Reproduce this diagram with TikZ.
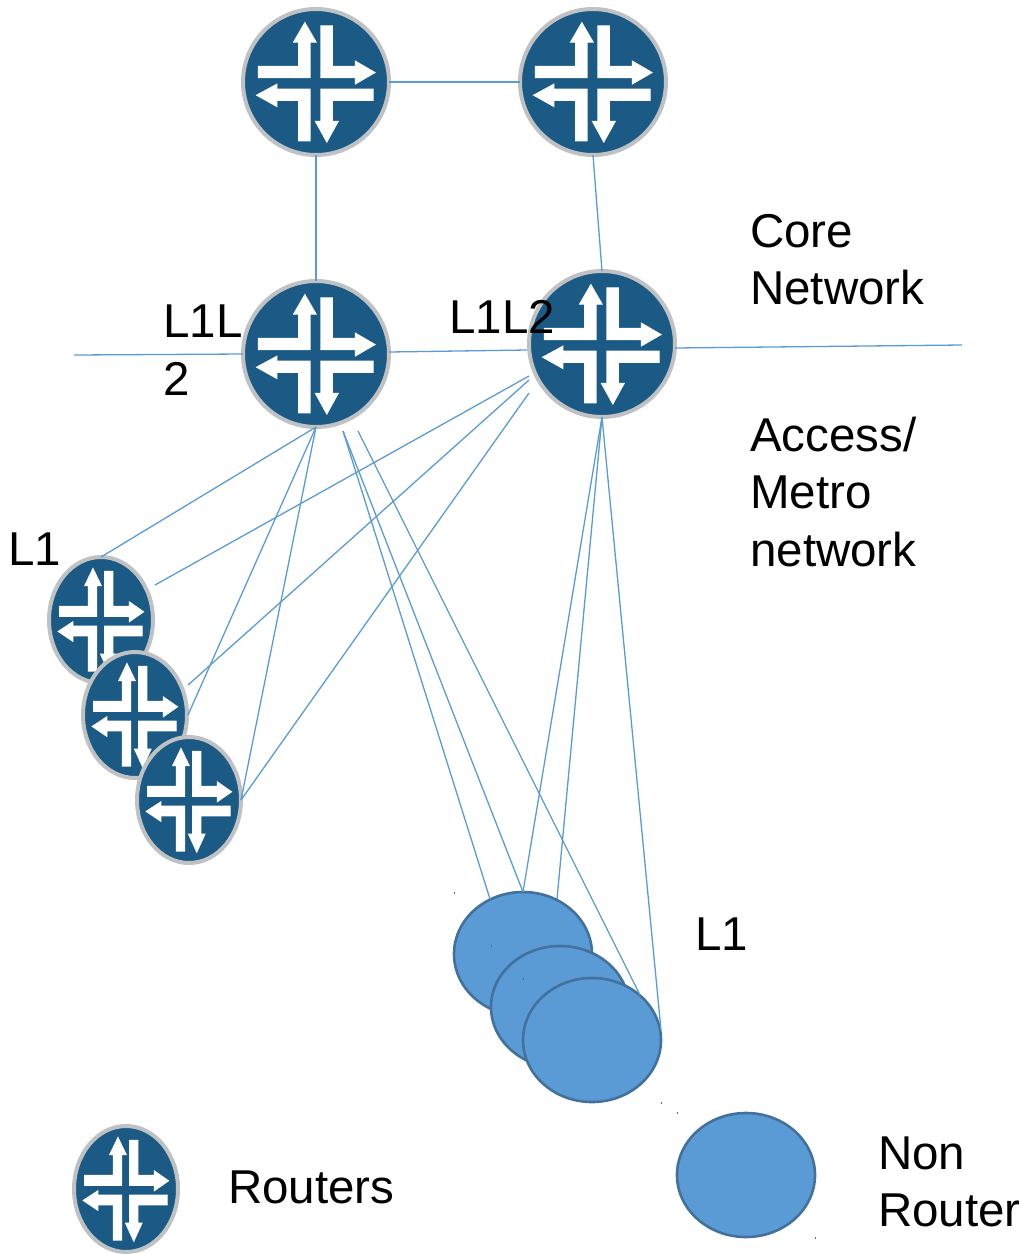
\documentclass[tikz,border=0pt]{standalone}
\usepackage{fontspec}
\setmainfont{Liberation Sans}
\usetikzlibrary{shapes.geometric}
\definecolor{linkblue}{HTML}{5B9BD5}
\definecolor{hostedge}{HTML}{41719C}
\definecolor{routerblue}{HTML}{1A5A85}
\definecolor{routerring}{HTML}{BFC1C3}
\tikzset{
  routerbody/.style={ellipse,draw=routerring,fill=routerblue,line width=4pt,inner sep=0pt,outer sep=0pt},
  hostbody/.style={ellipse,draw=hostedge,fill=linkblue,line width=2.6pt,inner sep=0pt,outer sep=0pt},
  link/.style={draw=linkblue,line width=1.3pt},
  lbl/.style={anchor=base west,inner sep=0pt,font=\fontsize{47.5}{57}\selectfont},
  speck/.style={fill=hostedge},
  glyph/.style={fill=white,draw=white,line width=1.2pt,miter limit=10}
}
\newcommand{\routernode}[5]{%
  \node[routerbody,minimum width=#4*2pt-4pt,minimum height=#5*2pt-4pt] (#1) at (#2,#3) {};
  \begin{scope}[shift={(#2,#3)},x={#4pt/222},y={-#5pt/222}]
    \path[glyph] (-170,-46)--(-51,-46)--(-51,-118)--(-66,-118)--(-33,-175)--(0,-118)--(-18,-118)--(-18,-13)--(-170,-13)--cycle;
    \path[glyph] (15,-166)--(48,-166)--(48,-46)--(117,-46)--(117,-61)--(174,-28)--(117,5)--(117,-13)--(15,-13)--cycle;
    \path[glyph] (169,21)--(169,54)--(48,54)--(48,117)--(65,117)--(32,177)--(-1,117)--(15,117)--(15,21)--cycle;
    \path[glyph] (-175,39)--(-116,7)--(-116,21)--(-18,21)--(-18,174)--(-51,174)--(-51,54)--(-116,54)--(-116,72)--cycle;
  \end{scope}}
\begin{document}
\begin{tikzpicture}[x=1pt,y=-1pt]
\useasboundingbox (0,0) rectangle (1021,1254);
% routers
\routernode{coreA}{316}{82}{75}{75}
\routernode{coreB}{593}{82}{75}{75}
\routernode{edgeC}{316}{354}{75}{75}
\routernode{edgeD}{602}{344}{75}{75}
\routernode{leafA}{101}{620}{54}{65}
\routernode{leafB}{135}{715}{54}{65}
\routernode{leafC}{189}{800}{54}{65}
\routernode{legendR}{126}{1189}{54}{65}
% non routers
\node[hostbody,minimum width=138pt,minimum height=124pt] (hostA) at (523,954) {};
\node[hostbody,minimum width=138pt,minimum height=122pt] (hostB) at (560,1007) {};
\node[hostbody,minimum width=138pt,minimum height=124pt] (hostC) at (592,1040) {};
\node[hostbody,minimum width=138pt,minimum height=124pt] (legendH) at (746,1175) {};
% free ends and border points
\coordinate (farW) at (74,355);
\coordinate (farE) at (962,345);
\coordinate (cOutA) at (343,431);
\coordinate (cOutB) at (358,431);
\coordinate (dOutA) at (529,376);
\coordinate (dOutB) at (529,380);
\coordinate (dOutC) at (529,393);
\coordinate (leafAin) at (155,585);
\coordinate (leafBin) at (188,685);
\coordinate (leafBinB) at (188,715);
\coordinate (leafCin) at (241,800);
\coordinate (hostAin) at (490,899);
\coordinate (hostAinB) at (557,899);
\coordinate (hostCin) at (640,995);
\coordinate (hostCinB) at (661,1030);
% links
\draw[link] (coreA.east) -- (coreB.west);
\draw[link] (coreA.south) -- (edgeC.north);
\draw[link] (coreB.south) -- (edgeD.north);
\draw[link] (farW) -- (edgeC.west);
\draw[link] (edgeC.east) ++(0,-2) -- (527,350);
\draw[link] (edgeD.east) ++(0,4) -- (farE);
\draw[link] (edgeC.south) -- (leafA.north);
\draw[link] (edgeC.south) -- (leafBinB);
\draw[link] (edgeC.south) -- (leafCin);
\draw[link] (cOutA) -- (hostAin);
\draw[link] (cOutA) -- (hostA.north);
\draw[link] (cOutB) -- (hostCin);
\draw[link] (dOutA) -- (leafAin);
\draw[link] (dOutB) -- (leafBin);
\draw[link] (dOutC) -- (leafCin);
\draw[link] (edgeD.south) -- (hostA.north);
\draw[link] (edgeD.south) -- (hostAinB);
\draw[link] (edgeD.south) -- (hostCinB);
% labels
\node[lbl] (tCore) at (750,247) {Core};
\node[lbl] (tNetwork) at (750,304) {Network};
\node[lbl] (tLa) at (163,337) {L1L};
\node[lbl] (tLb) at (163,395) {2};
\node[lbl] (tLc) at (449,333) {L1L2};
\node[lbl] (tAccess) at (750,451) {Access/};
\node[lbl] (tMetro) at (750,508) {Metro};
\node[lbl] (tNet) at (750,566) {network};
\node[lbl] (tLeaf) at (8,565) {L1};
\node[lbl] (tHost) at (695,950) {L1};
\node[lbl] (tRouters) at (228,1203) {Routers};
\node[lbl] (tNon) at (878,1169) {Non};
\node[lbl] (tRouter) at (878,1226) {Router};
% specks
\foreach \sx/\sy in {454/892,491/945,523/978,661/1102,677/1112,815/1237}
  \fill[speck] (\sx,\sy) rectangle ++(1,2);
\end{tikzpicture}
\end{document}
